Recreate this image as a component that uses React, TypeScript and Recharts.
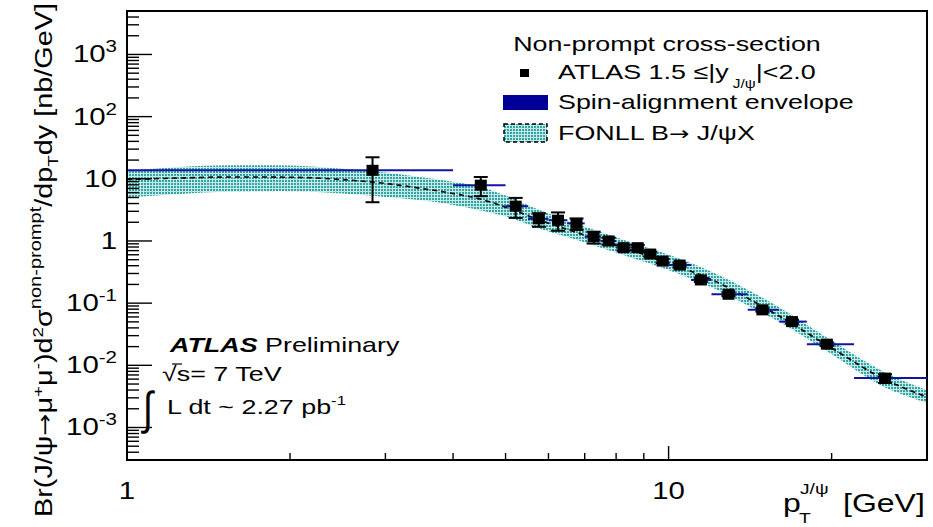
import React from 'react';
import { ComposedChart, XAxis, YAxis, Area, Line, Scatter, ErrorBar, ReferenceArea } from 'recharts';

// ---------- data ----------
const binLow = [1, 4, 5, 5.5, 6, 6.5, 7, 7.5, 8, 8.5, 9, 9.5, 10, 11, 12, 14, 16, 18, 22];
const binHigh = [4, 5, 5.5, 6, 6.5, 7, 7.5, 8, 8.5, 9, 9.5, 10, 11, 12, 14, 16, 18, 22, 30];
const ptMean = [2.84, 4.5, 5.22, 5.76, 6.25, 6.76, 7.27, 7.75, 8.26, 8.77, 9.25, 9.75, 10.48, 11.47, 12.9, 14.9, 16.9, 19.6, 25.1];
const xsec = [13.7, 7.9, 3.63, 2.27, 2.16, 1.92, 1.17, 1.0, 0.78, 0.78, 0.616, 0.475, 0.41, 0.236, 0.139, 0.078, 0.0505, 0.0219, 0.00623];
const xsecLow = [4.2, 5.25, 2.35, 1.69, 1.46, 1.5, 0.91, 0.87, 0.7, 0.7, 0.56, 0.44, 0.38, 0.22, 0.13, 0.073, 0.047, 0.0205, 0.0052];
const xsecHigh = [22.2, 10.7, 4.93, 2.8, 2.88, 2.3, 1.41, 1.13, 0.86, 0.86, 0.67, 0.51, 0.44, 0.25, 0.148, 0.083, 0.054, 0.0233, 0.0072];

const fonllPt = [1, 1.25, 1.55, 2, 2.5, 3, 3.5, 4, 4.5, 5, 5.75, 6.8, 8, 10.4, 12, 14, 16, 20, 25, 30];
const fonllMid = [9.75, 10.3, 10.7, 10.6, 9.7, 8.4, 7.0, 5.8, 4.7, 3.5, 2.2, 1.35, 0.85, 0.39, 0.24, 0.12, 0.062, 0.019, 0.006, 0.0031];
const fonllHigh = [13.4, 15.5, 16.5, 16.3, 14.5, 12.6, 10.6, 9.0, 7.4, 5.4, 3.2, 1.85, 1.15, 0.53, 0.32, 0.165, 0.086, 0.025, 0.0078, 0.004];
const fonllLow = [5.0, 5.7, 6.2, 6.3, 5.8, 5.1, 4.5, 3.8, 3.1, 2.5, 1.6, 1.03, 0.65, 0.3, 0.18, 0.092, 0.05, 0.015, 0.0045, 0.0025];

const xMajorTicks = [1, 10];
const xMinorTicks = [2, 3, 4, 5, 6, 7, 8, 9, 20];
const yMajorTicks = [0.001, 0.01, 0.1, 1, 10, 100, 1000];
const yMinorFactors = [2, 3, 4, 5, 6, 7, 8, 9];
const xDomain = [1, 30];
const yDomain = [0.0003, 5000];

// ---------- derived tables ----------
const points = ptMean.map((x, i) => ({
  x,
  y: xsec[i],
  ey: [xsec[i] - xsecLow[i], xsecHigh[i] - xsec[i]],
  ex: [x - binLow[i], binHigh[i] - x],
}));
const fonll = fonllPt.map((x, i) => ({ x, mid: fonllMid[i], band: [fonllLow[i], fonllHigh[i]] }));

const xTicks = [...xMajorTicks, ...xMinorTicks].sort((a, b) => a - b);
const yTicks: number[] = [];
[0.0001, ...yMajorTicks].forEach((d) => {
  [1, ...yMinorFactors].forEach((f) => {
    const v = d * f;
    if (v > yDomain[0] * 1.01 && v < yDomain[1] * 0.99) yTicks.push(v);
  });
});

const isMajor = (v: number) => {
  const l = Math.log10(v);
  return Math.abs(l - Math.round(l)) < 1e-6;
};

const FONT = "'Liberation Sans', Arial, Helvetica, sans-serif";
const ARROW_FONT = "'DejaVu Sans', sans-serif";
const SX = 1.28;

const T = ({ x, y, size, anchor = 'start', children, weight, italic }: any) => (
  <text
    transform={`translate(${x} ${y}) scale(${SX} 1)`}
    fontSize={size}
    textAnchor={anchor}
    fontFamily={FONT}
    fontWeight={weight}
    fontStyle={italic ? 'italic' : undefined}
    fill="#000"
  >
    {children}
  </text>
);

// ---------- ticks ----------
const yLabel = (v: number) => {
  const e = Math.round(Math.log10(v));
  if (e === 0) return '1';
  if (e === 1) return '10';
  return (
    <>
      10
      <tspan dy={-10} fontSize={16}>
        {e}
      </tspan>
    </>
  );
};

const YTickLeft = (props: any) => {
  const { x, y, payload } = props;
  const v = payload.value;
  const major = isMajor(v);
  return (
    <g>
      <line x1={x} x2={x + (major ? 25 : 12)} y1={y} y2={y} stroke="#000" strokeWidth={1.4} />
      {major && (
        <T x={x - 10} y={y + 8} size={23} anchor="end">
          {yLabel(v)}
        </T>
      )}
    </g>
  );
};

const YTickRight = (props: any) => {
  const { x, y, payload } = props;
  const major = isMajor(payload.value);
  return <line x1={x} x2={x - (major ? 25 : 12)} y1={y} y2={y} stroke="#000" strokeWidth={1.4} />;
};

const XTickBottom = (props: any) => {
  const { x, y, payload } = props;
  const v = payload.value;
  const major = isMajor(v);
  return (
    <g>
      <line x1={x} x2={x} y1={y} y2={y - (major ? 14 : 7)} stroke="#000" strokeWidth={1.4} />
      {major && (
        <T x={x} y={y + 39} size={23} anchor="middle">
          {String(v)}
        </T>
      )}
    </g>
  );
};

const XTickTop = (props: any) => {
  const { x, y, payload } = props;
  const major = isMajor(payload.value);
  return <line x1={x} x2={x} y1={y} y2={y + (major ? 14 : 7)} stroke="#000" strokeWidth={1.4} />;
};

const Square = (p: any) => (
  <rect x={p.cx - 6} y={p.cy - 5.5} width={12} height={11} fill="#000" />
);

const axisLine = { stroke: '#000', strokeWidth: 2 };

export default function App() {
  return (
    <div style={{ position: 'relative', width: 933, height: 527, background: '#fff' }}>
      <style>{'body{margin:0;background:#fff}'}</style>
      <svg width={0} height={0} style={{ position: 'absolute' }}>
        <defs>
          <pattern id="fonllDots" width={3} height={3} patternUnits="userSpaceOnUse">
            <rect width={3} height={3} fill="#c4eaea" />
            <rect width={2} height={2} fill="#36a3a3" />
          </pattern>
        </defs>
      </svg>
      <ComposedChart width={933} height={527} margin={{ top: 11, right: 6, bottom: 0, left: 0 }}>
        <XAxis
          xAxisId={0}
          dataKey="x"
          type="number"
          scale="log"
          domain={xDomain}
          allowDataOverflow
          ticks={xTicks}
          interval={0}
          tick={XTickBottom}
          tickLine={false}
          tickSize={0}
          tickMargin={0}
          stroke="#000"
          axisLine={axisLine}
          height={67}
        />
        <XAxis
          xAxisId="top"
          orientation="top"
          dataKey="x"
          type="number"
          scale="log"
          domain={xDomain}
          allowDataOverflow
          ticks={xTicks}
          interval={0}
          tick={XTickTop}
          tickLine={false}
          tickSize={0}
          tickMargin={0}
          stroke="#000"
          axisLine={axisLine}
          height={0}
        />
        <YAxis
          yAxisId={0}
          type="number"
          scale="log"
          domain={yDomain}
          allowDataOverflow
          ticks={yTicks}
          interval={0}
          tick={YTickLeft}
          tickLine={false}
          tickSize={0}
          tickMargin={0}
          stroke="#000"
          axisLine={axisLine}
          width={127}
        />
        <YAxis
          yAxisId="right"
          orientation="right"
          type="number"
          scale="log"
          domain={yDomain}
          allowDataOverflow
          ticks={yTicks}
          interval={0}
          tick={YTickRight}
          tickLine={false}
          tickSize={0}
          tickMargin={0}
          stroke="#000"
          axisLine={axisLine}
          width={0}
        />
        <Area
          data={fonll}
          dataKey="band"
          type="monotone"
          fill="url(#fonllDots)"
          fillOpacity={1}
          stroke="none"
          isAnimationActive={false}
        />
        <Line
          data={fonll}
          dataKey="mid"
          type="monotone"
          stroke="#000"
          strokeWidth={1.6}
          strokeDasharray="5 4"
          dot={false}
          isAnimationActive={false}
        />
        <Scatter data={points} dataKey="y" shape={Square} isAnimationActive={false}>
          <ErrorBar dataKey="ex" direction="x" width={0} stroke="#1414a0" strokeWidth={2} />
          <ErrorBar dataKey="ey" direction="y" width={7} stroke="#000" strokeWidth={2} />
        </Scatter>
        <ReferenceArea
          x1={xDomain[0]}
          x2={xDomain[1]}
          y1={yDomain[0]}
          y2={yDomain[1]}
          fill="none"
          fillOpacity={0}
          stroke="#000"
          strokeWidth={2}
          strokeOpacity={1}
          ifOverflow="visible"
        />
      </ComposedChart>

      <svg
        width={933}
        height={527}
        style={{ position: 'absolute', left: 0, top: 0, pointerEvents: 'none' }}
      >
        {/* legend */}
        <T x={667} y={51} size={21} anchor="middle">
          Non-prompt cross-section
        </T>
        <rect x={520} y={69} width={9} height={8} fill="#000" />
        <T x={558} y={79} size={21}>
          ATLAS 1.5 ≤|y
          <tspan dy={9} fontSize={12}>
            {' J/ψ'}
          </tspan>
          <tspan dy={-9}>|&lt;2.0</tspan>
        </T>
        <rect x={503} y={95} width={45} height={15} fill="#000099" />
        <T x={558} y={109} size={21}>
          Spin-alignment envelope
        </T>
        <rect
          x={504}
          y={124}
          width={43}
          height={18}
          fill="url(#fonllDots)"
          stroke="#000"
          strokeWidth={1.5}
          strokeDasharray="4 3"
        />
        <T x={558} y={140} size={21}>
          FONLL B<tspan fontFamily={ARROW_FONT} fontSize={19}>→</tspan> J/ψX
        </T>

        {/* ATLAS labels */}
        <T x={170} y={352} size={21}>
          <tspan fontWeight="bold" fontStyle="italic">
            ATLAS
          </tspan>{' '}
          Preliminary
        </T>
        <T x={162} y={381} size={21}>
          √s= 7 TeV
        </T>
        <line x1={172} x2={182} y1={364} y2={364} stroke="#000" strokeWidth={1.2} />
        <text fontSize={46} fontFamily={FONT} fill="#000" transform="translate(143 424) scale(0.8 1)">
          ∫
        </text>
        <T x={167} y={414} size={21}>
          L dt ~ 2.27 pb
          <tspan dy={-9} fontSize={13}>
            -1
          </tspan>
        </T>

        {/* x title */}
        <T x={783} y={512} size={25}>
          p
        </T>
        <T x={800} y={494} size={15}>
          J/ψ
        </T>
        <T x={799} y={523} size={15}>
          T
        </T>
        <T x={843} y={512} size={25}>
          [GeV]
        </T>

        {/* y title */}
        <text
          transform="translate(52 260) rotate(-90)"
          textAnchor="middle"
          fontSize={23}
          fontFamily={FONT}
          fill="#000"
          textLength={514}
          lengthAdjust="spacingAndGlyphs"
        >
          Br(J/ψ
          <tspan fontFamily={ARROW_FONT} fontSize={21}>→</tspan>
          μ
          <tspan dy={-9} fontSize={15}>
            +
          </tspan>
          <tspan dy={9}>μ</tspan>
          <tspan dy={-9} fontSize={15}>
            -
          </tspan>
          <tspan dy={9}>)d</tspan>
          <tspan dy={-9} fontSize={15}>
            2
          </tspan>
          <tspan dy={9}>σ</tspan>
          <tspan dy={-11} fontSize={16}>
            non-prompt
          </tspan>
          <tspan dy={11}>/dp</tspan>
          <tspan dy={6} fontSize={15}>
            T
          </tspan>
          <tspan dy={-6}>dy [nb/GeV]</tspan>
        </text>
      </svg>
    </div>
  );
}
